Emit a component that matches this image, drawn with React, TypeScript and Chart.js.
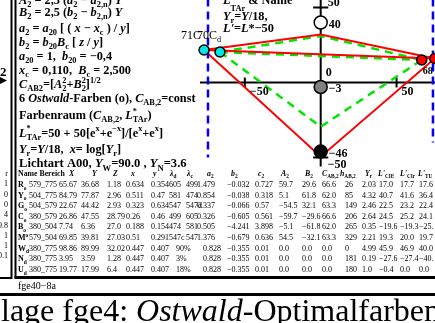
import React, { useEffect, useRef } from "react";
import { Chart, registerables } from "chart.js";
Chart.register(...registerables);

const W = 435;
const H = 323;
const FONT = '"Liberation Serif", "Times New Roman", serif';

// ---- diagram data (horizontal: a-like axis, vertical: L') ----
const xTicks = [-50, 50];
const xTickLabels = ["−50", "50"];
const yTicks = [50, -50];
const cyanA = [-76.9, -66.4];
const cyanL = [21.7, 20.3];
const redA = [66.6, 75.2];
const redL = [15.0, 16.0];
const centerL = [40, -3, -46];
const centerLabels = ["40", "−3", "−46"];
const centerColors = ["#ffffff", "#808080", "#000000"];
const redApexL = [32, -49.5];
const greenApexL = [31, -29.5];
const blueA = [-74.3, 74.0];
const blueBottomL = [-50, -40];

// ---- table data ----
const rowNames = ["R", "Y", "G", "C", "B", "M", "W", "N", "U"];
const rowMarks = ["_{o}", "_{o}", "_{o}", "_{o}", "_{o}", "^{o}", "_{d}", "_{d}", "_{d}"];
const bereich = ["579_775", "504_775", "504_579", "380_579", "380_504", "579_504", "380_775", "380_775", "380_775"];
const colX = ["65.67", "84.79", "22.67", "26.86", "7.74", "69.85", "98.86", "3.95", "19.77"];
const colY = ["36.68", "77.87", "44.42", "47.55", "6.36", "39.81", "89.99", "3.59", "17.99"];
const colZ = ["1.18", "2.96", "2.93", "28.79", "27.0", "27.03", "32.02", "1.28", "6.4"];
const colx = ["0.634", "0.511", "0.323", "0.26", "0.188", "0.51", "0.447", "0.447", "0.447"];
const coly = ["0.354", "0.47", "0.634", "0.46", "0.154", "0.291", "0.407", "0.407", "0.407"];
const lamD = ["605", "581", "547", "499", "474", "547c", "90%", "3%", "18%"];
const lamC = ["499", "474", "547d", "605", "581", "547", "", "", ""];
const colA2s = ["1.479", "0.854", "0.337", "0.326", "0.505", "1.376", "0.828", "0.828", "0.828"];
const colB2s = ["−0.032", "−0.038", "−0.066", "−0.605", "−4.241", "−0.679", "−0.355", "−0.355", "−0.355"];
const colC2s = ["0.727", "0.318", "0.57", "0.561", "3.898", "0.636", "0.01", "0.01", "0.01"];
const colA2 = ["59.7", "5.1", "−54.5", "−59.7", "−5.1", "54.5", "0.0", "0.0", "0.0"];
const colB2 = ["29.6", "61.8", "32.1", "−29.6", "−61.8", "−32.1", "0.0", "0.0", "0.0"];
const colCab = ["66.6", "62.0", "63.3", "66.6", "62.0", "63.3", "0.0", "0.0", "0.0"];
const colHab = ["26", "85", "149", "206", "265", "329", "0", "181", "180"];
const colYr = ["2.03", "4.32", "2.46", "2.64", "0.35", "2.21", "4.99", "0.19", "1.0"];
const colLcie = ["17.0", "40.7", "22.5", "24.5", "−19.6", "19.3", "45.9", "−27.6", "−0.4"];
const colLcir = ["17.7", "41.6", "23.2", "25.2", "−19.3", "20.0", "46.9", "−27.4", "0.0"];
const colLtu = ["17.6", "36.4", "22.4", "24.1", "−25.", "19.7", "40.0", "−40.", "0.0"];
const headers = ["Name Bereich", "~X~", "~Y~", "~Z~", "~x~", "~y~", "~λ~_{d}", "~λ~_{c}", "~a~_{2}", "~b~_{2}", "~c~_{2}", "~A~_{2}", "~B~_{2}", "~C~_{AB,2}", "~h~_{AB,2}", "~Y~_{r}", "~L'~_{CIE}", "~L'~_{CIr}", "~L'~_{TU}"];
const leftCut = ["r", "1", "0", "0", "4", "9.8", "1", "1", "0.1"];

const formulaLines = [
  "~A~_{2} = 2,5 (~a~_{2} − ~a~_{2,n}) ~Y~",
  "~B~_{2} = 2,5 (~b~_{2} − ~b~_{2,n}) ~Y~",
  "~a~_{2} = ~a~_{20} [ ( ~x~ − ~x~_{c} ) / ~y~]",
  "~b~_{2} = ~b~_{20}~B~_{c} [ ~z~ / ~y~]",
  "~a~_{20} = 1,  ~b~_{20} = −0,4",
  "~x~_{c} = 0,110,  ~B~_{c} = 2,500",
  "~C~_{AB2}=[~A~_{2}^{2}+~B~_{2}^{2}]^{1/2}",
  "6 ~Ostwald~-Farben (o), ~C~_{AB,2}=const",
  "Farbenraum (~C~_{AB,2}, ~L~^{*}_{TAr})",
  "~L~^{*}_{TAr}=50 + 50[e^{x}+e^{−x}]/[e^{x}+e^{x}]",
  "~Y~_{r}=~Y~/18,  ~x~= log[~Y~_{r}]",
];
const formulaBase = [4, 16, 31.5, 46, 60, 74, 88, 101.5, 119, 136.5, 153];

type Tok = { t: string; it: boolean; m: number };
function parse(s: string): Tok[] {
  const out: Tok[] = [];
  let it = false;
  let buf = "";
  let i = 0;
  const flush = () => {
    if (buf) out.push({ t: buf, it, m: 0 });
    buf = "";
  };
  while (i < s.length) {
    const c = s[i];
    if (c === "~") {
      flush();
      it = !it;
      i++;
    } else if ((c === "_" || c === "^") && s[i + 1] === "{") {
      flush();
      const j = s.indexOf("}", i);
      const inner = s.slice(i + 2, j);
      const m = c === "_" ? 1 : 2;
      let it2 = it;
      let b = "";
      for (const ch of inner) {
        if (ch === "~") {
          if (b) out.push({ t: b, it: it2, m });
          b = "";
          it2 = !it2;
        } else b += ch;
      }
      if (b) out.push({ t: b, it: it2, m });
      i = j + 1;
    } else {
      buf += c;
      i++;
    }
  }
  flush();
  return out;
}

function rich(ctx: CanvasRenderingContext2D, s: string, x: number, y: number, size: number, bold: boolean, subOff = 0.28) {
  const toks = parse(s);
  let cx = x;
  let runMode = 0;
  let runStart = x;
  let stackEnd = 0;
  for (const tk of toks) {
    if (tk.m !== runMode) {
      if (tk.m !== 0 && runMode !== 0) {
        stackEnd = cx;
        cx = runStart;
      } else if (tk.m === 0) {
        cx = Math.max(cx, stackEnd);
        stackEnd = 0;
      } else {
        runStart = cx;
      }
      runMode = tk.m;
    }
    const sz = tk.m ? size * 0.68 : size;
    ctx.font = `${tk.it ? "italic " : ""}${bold ? "bold " : ""}${sz}px ${FONT}`;
    const dy = tk.m === 1 ? y + size * subOff : tk.m === 2 ? y - size * 0.42 : y;
    ctx.fillText(tk.t, cx, dy);
    cx += ctx.measureText(tk.t).width;
  }
  return Math.max(cx, stackEnd);
}

const seg = (pts: { x: number; y: number }[], color: string, width: number, dash: number[] = [], order = 5) => ({
  type: "scatter" as const,
  data: pts,
  showLine: true,
  borderColor: color,
  borderWidth: width,
  borderDash: dash,
  pointRadius: 0,
  pointHoverRadius: 0,
  fill: false,
  order,
  clip: false as any,
});

export default function App() {
  const ref = useRef<HTMLCanvasElement>(null);
  useEffect(() => {
    const canvas = ref.current!;
    const top = { x: 0, y: redApexL[0] };
    const bot = { x: 0, y: redApexL[1] };
    const gTop = { x: 0, y: greenApexL[0] };
    const gBot = { x: 0, y: greenApexL[1] };
    const c1 = { x: cyanA[0], y: cyanL[0] };
    const c2 = { x: cyanA[1], y: cyanL[1] };
    const r1 = { x: redA[0], y: redL[0] };
    const r2 = { x: redA[1], y: redL[1] };

    const textPlugin = {
      id: "texts",
      afterDraw(chart: any) {
        const ctx: CanvasRenderingContext2D = chart.ctx;
        const sx = chart.scales.x;
        const sy = chart.scales.y;
        ctx.save();
        ctx.fillStyle = "#000";
        ctx.strokeStyle = "#000";
        ctx.textBaseline = "alphabetic";
        // frames
        ctx.lineWidth = 2;
        ctx.beginPath();
        ctx.moveTo(11.5, 0); ctx.lineTo(11.5, 279);
        ctx.moveTo(0, 278); ctx.lineTo(12, 278);
        ctx.moveTo(15.5, 0); ctx.lineTo(15.5, 278);
        ctx.stroke();
        ctx.lineWidth = 3;
        ctx.beginPath();
        ctx.moveTo(14.5, 277.5); ctx.lineTo(W, 277.5);
        ctx.moveTo(0, 294.5); ctx.lineTo(W, 294.5);
        ctx.stroke();
        // left cut-off marks
        rich(ctx, "2", 0, 76, 13, true);
        ctx.beginPath();
        ctx.moveTo(0, 77); ctx.lineTo(7, 80.5); ctx.lineTo(0, 84); ctx.closePath(); ctx.fill();
        ctx.font = `8px ${FONT}`;
        ctx.textAlign = "right";
        leftCut.forEach((t, i) => ctx.fillText(t, 8, 176 + i * 10.3));
        ctx.textAlign = "left";
        // formulas
        formulaLines.forEach((l, i) => rich(ctx, l, 19, formulaBase[i], 12.3, true));
        rich(ctx, "Lichtart A00, ~Y~_{W}=90.0 , ~Y~_{N}=3.6", 19, 167, 12.6, true);
        // diagram legend text
        rich(ctx, "~L~^{*}_{TAr} & Name", 223, 4, 12.3, true, 0.55);
        rich(ctx, "~Y~_{r}=~Y~/18,", 223, 20, 12.3, true);
        rich(ctx, "~L'~=~L~*−50", 223, 32, 12.3, true);
        // axis labels
        const x0 = sx.getPixelForValue(0);
        xTicks.forEach((v, i) => rich(ctx, xTickLabels[i], sx.getPixelForValue(v) + 5, sy.getPixelForValue(0) + 12, 12, true));
        rich(ctx, "50", x0 + 7, sy.getPixelForValue(yTicks[0]) - 2, 12, true);
        rich(ctx, "−50", x0 + 7, sy.getPixelForValue(yTicks[1]) + 10, 12, true);
        rich(ctx, "0", x0 + 5, sy.getPixelForValue(0) - 7, 12, true);
        centerL.forEach((v, i) => rich(ctx, centerLabels[i], x0 + 8, sy.getPixelForValue(v) + 5, 12, true));
        // point names
        rich(ctx, "71C", sx.getPixelForValue(cyanA[0]) - 23, sy.getPixelForValue(cyanL[0]) - 11, 12, false);
        rich(ctx, "70C_{d}", sx.getPixelForValue(cyanA[1]) - 23, sy.getPixelForValue(cyanL[1]) - 13, 12, false);
        rich(ctx, "68", sx.getPixelForValue(redA[0]) + 1, sy.getPixelForValue(redL[0]) + 14, 10, true);
        // table
        const hx = [18, 69, 92, 113, 131, 153, 170, 187, 207, 231, 258, 281, 305, 322, 340, 365, 378, 400, 418];
        headers.forEach((h, i) => rich(ctx, h, hx[i], 176, 7.8, true));
        const cx = [29, 59, 81, 107, 126, 151, 169, 186, 197, 227, 255, 279, 302, 322, 345, 362, 379, 400, 419];
        const cols = [bereich, colX, colY, colZ, colx, coly, lamD, lamC, colA2s, colB2s, colC2s, colA2, colB2, colCab, colHab, colYr, colLcie, colLcir, colLtu];
        rowNames.forEach((n, r) => {
          const y = 187 + r * 10.6;
          rich(ctx, n + rowMarks[r], 18, y, 8, true, 0.35);
          ctx.font = `8px ${FONT}`;
          cols.forEach((col, c) => {
            let px = cx[c];
            if (r >= 6 && c === 6) px = 176;
            if (r >= 6 && c === 8) px = 203;
            ctx.fillText(col[r], px, y);
          });
        });
        ctx.font = `10px ${FONT}`;
        ctx.fillText("fge40−8a", 18, 289);
        // bottom title
        let bx = rich(ctx, "lage fge4: ", 1, 321, 32, false);
        bx = rich(ctx, "~Ostwald~", bx, 321, 32, false);
        rich(ctx, "-Optimalfarben", bx, 321, 32, false);
        ctx.restore();
      },
    };

    const datasets: any[] = [
      {
        type: "scatter",
        data: [c1, c2],
        pointRadius: 5,
        pointBackgroundColor: "#00e5e5",
        pointBorderColor: "#000",
        pointBorderWidth: 1.5,
        order: 0,
        clip: false,
      },
      {
        type: "scatter",
        data: [r1, r2],
        pointRadius: 5,
        pointBackgroundColor: "#ff0000",
        pointBorderColor: "#000",
        pointBorderWidth: 1.5,
        order: 0,
        clip: false,
      },
      {
        type: "scatter",
        data: centerL.map((v) => ({ x: 0, y: v })),
        pointRadius: 6.5,
        pointBackgroundColor: centerColors,
        pointBorderColor: "#000",
        pointBorderWidth: 1.5,
        order: 0,
        clip: false,
      },
      seg([c1, top, r2], "#ff0000", 2, [], 2),
      seg([c1, r2], "#ff0000", 2, [], 2),
      seg([c1, bot, r2], "#ff0000", 2, [], 2),
      seg([c2, gTop, r1], "#00e600", 2.5, [8, 6], 3),
      seg([c2, r1], "#00e600", 2.5, [8, 6], 3),
      seg([c2, gBot, r1], "#00e600", 2.5, [8, 6], 3),
      seg([{ x: -79.6, y: 0 }, { x: 80, y: 0 }], "#000", 2, [], 4),
      seg([{ x: 0, y: 56 }, { x: 0, y: -56 }], "#000", 2, [], 4),
      ...xTicks.map((v) => seg([{ x: v, y: -3.3 }, { x: v, y: 3.3 }], "#000", 2, [], 4)),
      ...yTicks.map((v) => seg([{ x: -5, y: v }, { x: 5, y: v }], "#000", 2, [], 4)),
      ...blueA.map((a, i) => seg([{ x: a, y: 56 }, { x: a, y: blueBottomL[i] }], "#0000ff", 2.5, [8, 5], 1)),
    ];

    const chart = new Chart(canvas, {
      type: "scatter",
      data: { datasets },
      options: {
        animation: false,
        responsive: false,
        maintainAspectRatio: false,
        devicePixelRatio: 1,
        layout: { padding: 0, autoPadding: false },
        events: [],
        scales: {
          x: { type: "linear", display: false, min: -211.4, max: 75.35 },
          y: { type: "linear", display: false, min: -160.33, max: 55 },
        },
        plugins: { legend: { display: false }, tooltip: { enabled: false } },
      },
      plugins: [textPlugin],
    });
    return () => chart.destroy();
  }, []);
  return (
    <div style={{ position: "fixed", left: 0, top: 0, width: W, height: H, background: "#fff" }}>
      <canvas ref={ref} width={W} height={H} style={{ display: "block", width: W, height: H }} />
    </div>
  );
}
